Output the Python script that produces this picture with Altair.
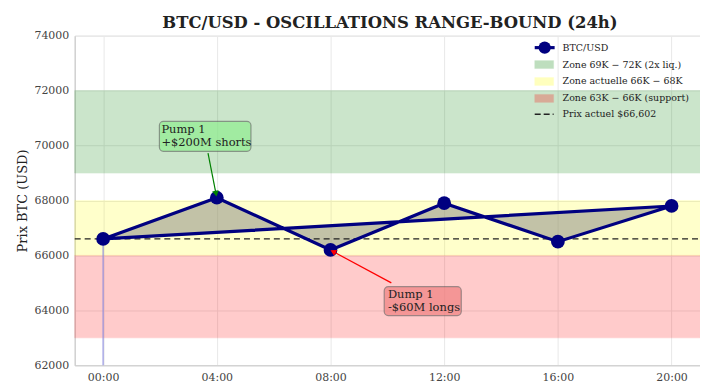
import math
import altair as alt
import pandas as pd

# ---------------- data ----------------
hours = [0, 4, 8, 12, 16, 20]
prices = [66600, 68100, 66200, 67900, 66500, 67800]
current_price = 66602

zone_low = [69000, 66000, 63000]
zone_high = [72000, 68000, 66000]
zone_color = ["#008000", "#ffff00", "#ff0000"]
zone_label = ["Zone 69K − 72K (2x liq.)", "Zone actuelle 66K − 68K", "Zone 63K − 66K (support)"]

y_ticks = [62000, 64000, 66000, 68000, 70000, 72000, 74000]
x_ticks = [0, 4, 8, 12, 16, 20]

ann_text = [["Pump 1", "+$200M shorts"], ["Dump 1", "-$60M longs"]]
ann_box_x = [1.98, 9.89]
ann_box_x2 = [5.2, 12.6]
ann_box_y = [70880, 64860]
ann_box_y2 = [69790, 63810]
ann_text_x = [2.05, 10.02]
ann_text_y = [70790, 64780]
ann_fill = ["#90ee90", "#f08080"]
ann_arrow_color = ["#008000", "#ff0000"]
ann_arrow_from_x = [3.69, 10.14]
ann_arrow_from_y = [69720, 65000]
ann_arrow_to_x = [3.97, 8.09]
ann_arrow_to_y = [68250, 66140]

W, H = 628, 331
XD = [-1, 21]
YD = [62000, 74000]
FONT = "DejaVu Serif"

xs = alt.Scale(domain=XD, nice=False, zero=False)
ys = alt.Scale(domain=YD, nice=False, zero=False)

x_axis = alt.Axis(values=x_ticks, labelExpr="(datum.value < 10 ? '0' : '') + datum.value + ':00'",
                  title=None, grid=True, ticks=False, labelPadding=6)
y_axis = alt.Axis(values=y_ticks, format="d", title="Prix BTC (USD)", grid=True, ticks=False,
                  labelPadding=6, titlePadding=4)

# zones
zones = pd.DataFrame({"lo": zone_low, "hi": zone_high, "c": zone_color, "label": zone_label})
zone_layer = alt.Chart(zones).mark_rect(opacity=0.2, strokeWidth=1, strokeOpacity=0.6).encode(
    x=alt.value(0), x2=alt.value(W),
    y=alt.Y("lo:Q", scale=ys, axis=y_axis), y2="hi:Q",
    fill=alt.Fill("c:N", scale=None), stroke=alt.Stroke("c:N", scale=None),
)

# x axis carrier + grid
axis_df = pd.DataFrame({"h": x_ticks})
x_layer = alt.Chart(axis_df).mark_point(opacity=0).encode(
    x=alt.X("h:Q", scale=xs, axis=x_axis), y=alt.value(0))

# polygon fill (between zig-zag and closing segment)
df = pd.DataFrame({"h": hours, "p": prices})
df["close"] = prices[0] + (prices[-1] - prices[0]) * (df["h"] - hours[0]) / (hours[-1] - hours[0])
fill_layer = alt.Chart(df).mark_area(color="#808080", opacity=0.48).encode(
    x=alt.X("h:Q", scale=xs), y=alt.Y("p:Q", scale=ys), y2="close:Q")

# vertical stem at first point
stem = alt.Chart(pd.DataFrame({"h": [hours[0]], "p": [prices[0]], "b": [YD[0]]})).mark_rule(
    color="#8888dd", strokeWidth=1.5, opacity=0.7).encode(
    x=alt.X("h:Q", scale=xs), y=alt.Y("p:Q", scale=ys), y2="b:Q")

# current price dashed
cur = alt.Chart(pd.DataFrame({"p": [current_price]})).mark_rule(
    color="#222222", strokeDash=[6, 4], strokeWidth=1.5).encode(
    y=alt.Y("p:Q", scale=ys), x=alt.value(0), x2=alt.value(W))

# closed line path
path = pd.DataFrame({"h": hours + [hours[0]], "p": prices + [prices[0]],
                     "o": list(range(len(hours) + 1))})
line_layer = alt.Chart(path).mark_line(color="#000080", strokeWidth=3.2).encode(
    x=alt.X("h:Q", scale=xs), y=alt.Y("p:Q", scale=ys), order="o:Q")
pts_layer = alt.Chart(df).mark_circle(color="#000080", opacity=1, size=190).encode(
    x=alt.X("h:Q", scale=xs), y=alt.Y("p:Q", scale=ys))

# annotations
sx = W / (XD[1] - XD[0])
sy = H / (YD[1] - YD[0])
ann_rows = []
for i in range(2):
    dx = (ann_arrow_to_x[i] - ann_arrow_from_x[i]) * sx
    dy = -(ann_arrow_to_y[i] - ann_arrow_from_y[i]) * sy
    ang = math.degrees(math.atan2(dx, -dy)) % 360
    ann_rows.append({"bx": ann_box_x[i], "bx2": ann_box_x2[i], "by": ann_box_y[i], "by2": ann_box_y2[i],
                     "tx": ann_text_x[i], "ty": ann_text_y[i], "txt": ann_text[i],
                     "fill": ann_fill[i], "ac": ann_arrow_color[i],
                     "fx": ann_arrow_from_x[i], "fy": ann_arrow_from_y[i],
                     "ex": ann_arrow_to_x[i], "ey": ann_arrow_to_y[i], "ang": ang})
ann = pd.DataFrame(ann_rows)
arrow_line = alt.Chart(ann).mark_rule(strokeWidth=1.2).encode(
    x=alt.X("fx:Q", scale=xs), y=alt.Y("fy:Q", scale=ys), x2="ex:Q", y2="ey:Q",
    color=alt.Color("ac:N", scale=None))
arrow_head = alt.Chart(ann).mark_point(shape="triangle-up", filled=True, size=45, opacity=1).encode(
    x=alt.X("ex:Q", scale=xs), y=alt.Y("ey:Q", scale=ys),
    color=alt.Color("ac:N", scale=None), angle=alt.Angle("ang:Q", scale=None))
box = alt.Chart(ann).mark_rect(cornerRadius=4, opacity=0.7, stroke="#555555", strokeOpacity=0.8,
                               strokeWidth=1.2).encode(
    x=alt.X("bx:Q", scale=xs), x2="bx2:Q", y=alt.Y("by:Q", scale=ys), y2="by2:Q",
    fill=alt.Fill("fill:N", scale=None))
box_text = alt.Chart(ann).mark_text(align="left", baseline="top", font=FONT, fontSize=11.5,
                                    color="#222222", lineHeight=13).encode(
    x=alt.X("tx:Q", scale=xs), y=alt.Y("ty:Q", scale=ys), text="txt")

# manual legend
lx, ltx = 462, 490
row_y = [12, 29, 46, 63, 79]
leg_line = alt.Chart(pd.DataFrame({"a": [0]})).mark_rule(color="#000080", strokeWidth=3.2).encode(
    x=alt.value(lx), x2=alt.value(lx + 20), y=alt.value(row_y[0]))
leg_pt = alt.Chart(pd.DataFrame({"a": [0]})).mark_circle(color="#000080", opacity=1, size=150).encode(
    x=alt.value(lx + 10), y=alt.value(row_y[0]))
leg_rect_df = pd.DataFrame({"c": zone_color, "y": [row_y[1] - 4, row_y[2] - 4, row_y[3] - 4],
                            "y2": [row_y[1] + 4, row_y[2] + 4, row_y[3] + 4]})
leg_rects = alt.Chart(leg_rect_df).mark_rect(opacity=0.25, strokeWidth=1, strokeOpacity=0.3).encode(
    x=alt.value(lx), x2=alt.value(lx + 19),
    y=alt.Y("y:Q", scale=None), y2="y2:Q",
    fill=alt.Fill("c:N", scale=None), stroke=alt.Stroke("c:N", scale=None))
leg_dash = alt.Chart(pd.DataFrame({"a": [0]})).mark_rule(color="#222222", strokeDash=[6, 3],
                                                         strokeWidth=1.5).encode(
    x=alt.value(lx), x2=alt.value(lx + 19), y=alt.value(row_y[4]))
leg_text_df = pd.DataFrame({"t": ["BTC/USD"] + zone_label + ["Prix actuel $66,602"], "y": row_y})
leg_text = alt.Chart(leg_text_df).mark_text(align="left", baseline="middle", font=FONT,
                                            fontSize=9.5, color="#222222").encode(
    x=alt.value(ltx), y=alt.Y("y:Q", scale=None), text="t")

chart = alt.layer(
    zone_layer, x_layer, fill_layer, stem, cur, line_layer, pts_layer,
    arrow_line, arrow_head, box, box_text,
    leg_line, leg_pt, leg_rects, leg_dash, leg_text,
).properties(
    width=W, height=H,
    title=alt.Title("BTC/USD - OSCILLATIONS RANGE-BOUND (24h)", font=FONT, fontSize=16.5,
                    fontWeight="bold", color="#222222", anchor="start", frame="group", dx=88, offset=-2),
    autosize=alt.AutoSizeParams(type="none"),
    padding={"left": 67, "top": 27, "right": 0, "bottom": 17},
).configure_view(stroke="#dddddd", strokeWidth=1).configure_axis(
    labelFont=FONT, titleFont=FONT, labelFontSize=11, titleFontSize=13, labelColor="#444444",
    titleColor="#222222", titleFontWeight="normal", gridColor="#e8e8e8", gridWidth=1,
    domainColor="#cccccc", domainWidth=1.2,
)

chart.save("out.html", embed_options={"renderer": "svg", "actions": False})
